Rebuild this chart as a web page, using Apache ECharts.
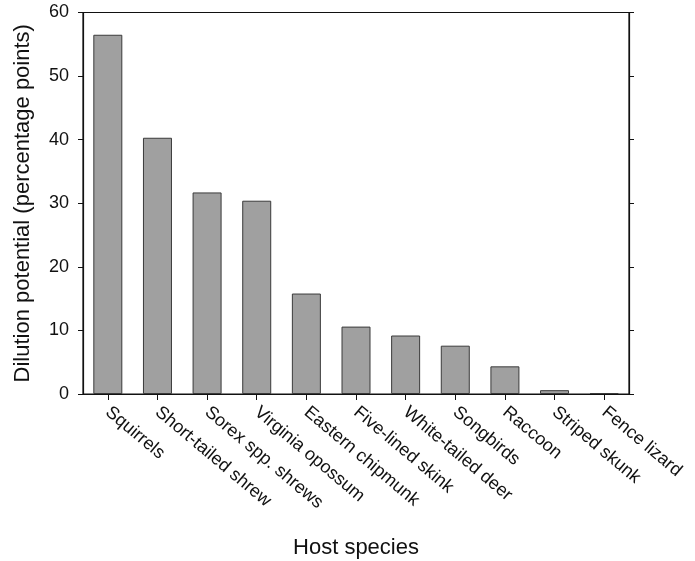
<!DOCTYPE html>
<html>
<head>
<meta charset="utf-8">
<script src="https://cdn.jsdelivr.net/npm/echarts@6/dist/echarts.min.js"></script>
<style>
html,body{margin:0;padding:0;background:#fff;}
#chart{width:695px;height:561px;}
</style>
</head>
<body>
<div id="chart"></div>
<script>
const categories = ["Squirrels","Short-tailed shrew","Sorex spp. shrews","Virginia opossum","Eastern chipmunk","Five-lined skink","White-tailed deer","Songbirds","Raccoon","Striped skunk","Fence lizard"];
const dilutionValues = [56.5, 40.3, 31.7, 30.4, 15.8, 10.6, 9.2, 7.6, 4.35, 0.6, 0.15];
const yTicks = [0, 10, 20, 30, 40, 50, 60];

const FONT = "'Liberation Sans', Arial, sans-serif";
const chart = echarts.init(document.getElementById('chart'), null, {renderer: 'canvas'});
chart.setOption({
  animation: false,
  backgroundColor: '#ffffff',
  grid: {left: 83, right: 66, top: 12.5, bottom: 167, show: true, borderColor: '#111', borderWidth: 1.2, containLabel: false, outerBoundsMode: 'none'},
  xAxis: {
    type: 'category',
    data: categories,
    name: 'Host species',
    nameLocation: 'middle',
    nameGap: 143,
    nameTextStyle: {fontFamily: FONT, fontSize: 22, color: '#111'},
    axisLine: {lineStyle: {color: '#111', width: 1.2}},
    axisTick: {show: true, alignWithLabel: true, length: 6, inside: false, lineStyle: {color: '#111'}},
    axisLabel: {rotate: -40, fontFamily: FONT, fontSize: 18, color: '#111', margin: 16, interval: 0},
    splitLine: {show: false}
  },
  yAxis: [{
    type: 'value',
    min: 0, max: 60, interval: 10,
    name: 'Dilution potential (percentage points)',
    nameLocation: 'middle',
    nameGap: 49,
    nameTextStyle: {fontFamily: FONT, fontSize: 22, color: '#111'},
    axisLine: {show: true, lineStyle: {color: '#111', width: 1.2}},
    axisTick: {show: true, length: 5, inside: false, lineStyle: {color: '#111'}},
    axisLabel: {fontFamily: FONT, fontSize: 18, color: '#111', margin: 14,
      formatter: v => yTicks.includes(v) ? String(v) : ''},
    splitLine: {show: false}
  }, {
    type: 'value',
    position: 'right',
    min: 0, max: 60, interval: 10,
    axisLine: {show: true, lineStyle: {color: '#111', width: 1.2}},
    axisTick: {show: true, length: 5, inside: false, lineStyle: {color: '#111'}},
    axisLabel: {show: false},
    splitLine: {show: false}
  }],
  series: [{
    type: 'bar',
    data: dilutionValues,
    barWidth: 29,
    itemStyle: {color: '#a0a0a0', borderColor: '#3a3a3a', borderWidth: 1}
  }]
});
</script>
</body>
</html>
